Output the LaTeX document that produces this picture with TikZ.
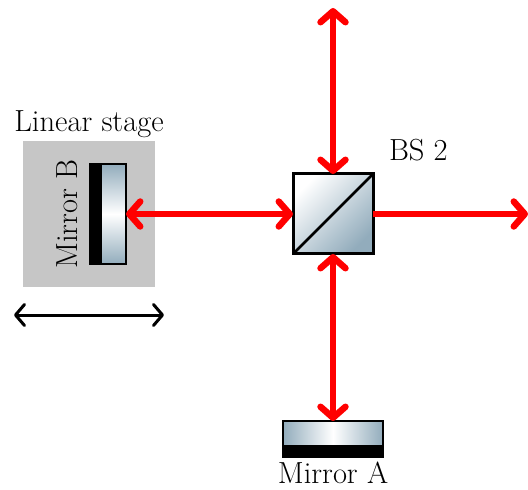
\documentclass[tikz,border=0pt]{standalone}
\usepackage{tikz}
\usetikzlibrary{positioning,arrows.meta,calc}
\definecolor{steel}{RGB}{146,172,188}
\definecolor{stagegray}{RGB}{198,198,198}

\begin{document}
\begin{tikzpicture}[
    every node/.style={inner sep=0pt,outer sep=0pt},
    label/.style={font=\fontsize{30.5}{30.5}\selectfont},
    stage/.style={rectangle,fill=stagegray,minimum width=132pt,minimum height=146pt},
    cube/.style={rectangle,draw=black,line width=3pt,minimum size=80pt,shading=axis,top color=white,bottom color=steel,shading angle=45},
    glass/.style={rectangle,draw=black,line width=2pt},
    backing/.style={rectangle,fill=black},
    beam/.style={{Straight Barb[length=11pt,width=25pt,round]}-{Straight Barb[length=11pt,width=25pt,round]},red,line width=6.5pt},
    beamout/.style={-{Straight Barb[length=11pt,width=25pt,round]},red,line width=6.5pt},
    travel/.style={{Straight Barb[length=9pt,width=21pt,round]}-{Straight Barb[length=9pt,width=21pt,round]},black,line width=3pt}
  ]
    \useasboundingbox (-89pt,214pt) rectangle (439pt,-276pt);
    \node[stage] (stage) {};
    \node[cube,right=138pt of stage] (bs) {};
    \node[glass,left=29pt of stage.east,minimum width=25pt,minimum height=100pt,top color=steel,bottom color=steel,middle color=white] (glassB) {};
    \node[backing,left=0pt of glassB,minimum width=12pt,minimum height=102pt] (backB) {};
    \node[label,left=11pt of backB,anchor=south,rotate=90] (textB) {Mirror B};
    \node[label,above=3pt of stage] (textstage) {Linear stage};
    \node[label,above right=13pt and 16pt of bs.north east] (textbs) {BS 2};
    \node[glass,below=167pt of bs,minimum width=100pt,minimum height=25pt,left color=steel,right color=steel,middle color=white] (glassA) {};
    \node[backing,below=0pt of glassA,minimum width=102pt,minimum height=12pt] (backA) {};
    \node[label,below=4pt of backA] (textA) {Mirror A};
    \coordinate[above=166pt of bs.north] (top);
    \coordinate[right=155pt of bs.east] (right);
    \coordinate[below left=28pt and 9pt of stage.south west] (stageL);
    \coordinate[below right=28pt and 9pt of stage.south east] (stageR);

    \draw[beam] (bs.north) -- (top);
    \draw[beam] (bs.south) -- (glassA.north);
    \draw[beam] (bs.west) -- (glassB.east);
    \draw[beamout] (bs.east) -- (right);
    \draw[black,line width=2.5pt] (bs.south west) -- (bs.north east);
    \draw[travel] (stageL) -- (stageR);
  \end{tikzpicture}
\end{document}
